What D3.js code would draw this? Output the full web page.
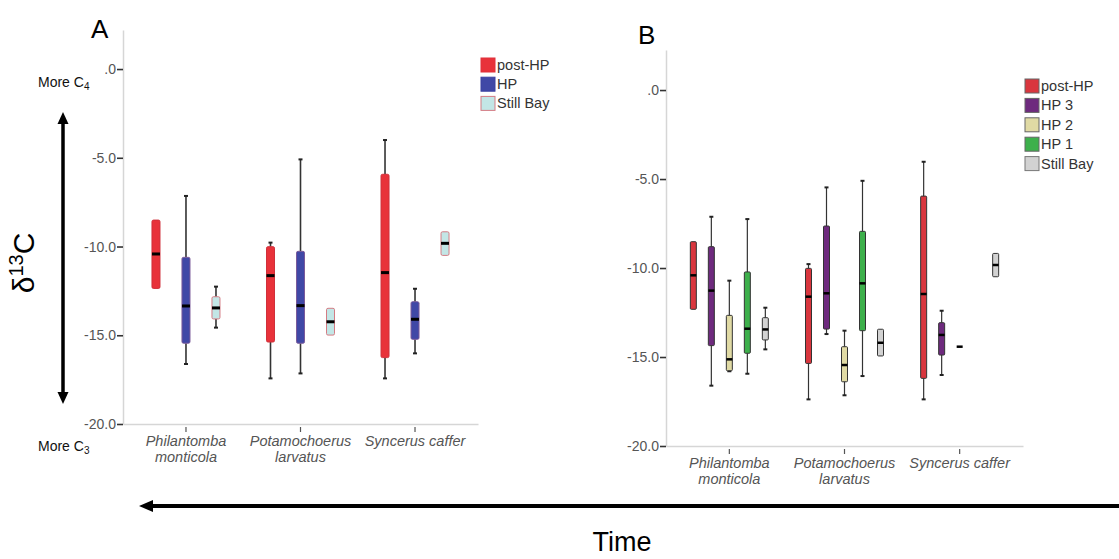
<!DOCTYPE html>
<html><head><meta charset="utf-8">
<script src="https://cdn.jsdelivr.net/npm/d3@7"></script>
<style>
body{margin:0;background:#fff}
svg{display:block}
text{font-family:"Liberation Sans",Arial,sans-serif}
</style>
</head><body>
<svg id="c" width="1119" height="559"></svg>
<script>
// ---------- DATA ----------
const categories = ["Philantomba monticola", "Potamochoerus larvatus", "Syncerus caffer"];
const categoryLines = [["Philantomba", "monticola"], ["Potamochoerus", "larvatus"], ["Syncerus caffer"]];
const yTicks = [0, -5, -10, -15, -20];
const yTickLabels = [".0", "-5.0", "-10.0", "-15.0", "-20.0"];

// Box stats per category: [min, q1, median, q3, max]
const seriesA = ["post-HP", "HP", "Still Bay"];
const aPostHP   = [[-12.36,-12.36,-10.42,-8.51,-8.51], [-17.43,-15.38,-11.64,-10.01,-9.78], [-17.43,-16.26,-11.47,-5.93,-4.00]];
const aHP       = [[-16.62,-15.45,-13.35,-10.61,-7.15], [-17.15,-15.45,-13.33,-10.27,-5.09], [-16.02,-15.23,-14.10,-13.11,-12.38]];
const aStillBay = [[-14.57,-14.08,-13.46,-12.83,-12.26], [-14.99,-14.99,-14.24,-13.48,-13.48], [-10.50,-10.50,-9.82,-9.17,-9.17]];

const seriesB = ["post-HP", "HP 3", "HP 2", "HP 1", "Still Bay"];
const bPostHP   = [[-12.32,-12.32,-10.41,-8.52,-8.52], [-17.38,-15.36,-11.61,-10.02,-9.78], [-17.38,-16.20,-11.46,-5.96,-4.03]];
const bHP3      = [[-16.61,-14.36,-11.27,-8.80,-7.12], [-13.71,-13.43,-11.42,-7.64,-5.47], [-16.01,-14.89,-13.76,-13.07,-12.40]];
const bHP2      = [[-15.80,-15.77,-15.13,-12.66,-10.71], [-17.15,-16.39,-15.45,-14.42,-13.52], [-14.42,-14.42,-14.42,-14.42,-14.42]];
const bHP1      = [[-15.94,-14.79,-13.41,-10.22,-7.25], [-16.07,-13.52,-10.86,-7.94,-5.10], null];
const bStillBay = [[-14.57,-14.04,-13.45,-12.79,-12.23], [-14.94,-14.94,-14.20,-13.44,-13.44], [-10.49,-10.49,-9.83,-9.18,-9.18]];

// ---------- DRAW ----------
const svg = d3.select("#c");

function panel(o) {
  const g = svg.append("g");
  const y = d3.scaleLinear().domain([-20, o.yMax]).range([o.bottom, o.top]);
  const x = d3.scaleBand().domain(categories).range([o.left, o.right]).paddingInner(0).paddingOuter(0.05);
  const sub = d3.scalePoint().domain(o.series).range([-o.spread, o.spread]);

  const ya = g.append("g").attr("transform", `translate(${o.left},0)`)
    .call(d3.axisLeft(y).tickValues(yTicks).tickSize(6).tickSizeOuter(0).tickPadding(1)
      .tickFormat((d, i) => yTickLabels[i]));
  ya.select(".domain").attr("stroke", "#d6d6d6").attr("stroke-width", 1.5);
  ya.selectAll(".tick line").attr("stroke", "#333").attr("stroke-width", 1.6);
  ya.selectAll(".tick text").attr("fill", "#555").style("font-size", "14px");

  const xa = g.append("g").attr("transform", `translate(0,${o.bottom})`)
    .call(d3.axisBottom(x).tickSize(6).tickSizeOuter(0).tickFormat(""));
  xa.select(".domain").attr("stroke", "#d6d6d6").attr("stroke-width", 1.5);
  xa.selectAll(".tick line").attr("stroke", "#555").attr("stroke-width", 1.2).attr("y1", 3).attr("y2", 8);

  categories.forEach((c, i) => {
    const t = g.append("text").attr("x", x(c) + x.bandwidth() / 2).attr("y", o.bottom + 22)
      .attr("text-anchor", "middle").attr("fill", "#555").style("font-size", "14.5px").style("font-style", "italic");
    categoryLines[i].forEach((ln, j) => {
      t.append("tspan").attr("x", x(c) + x.bandwidth() / 2).attr("dy", j === 0 ? 0 : 15.5).text(ln);
    });
  });

  o.series.forEach((s, si) => {
    const data = o.data[si];
    categories.forEach((c, ci) => {
      const d = data[ci];
      if (!d) return;
      const cx = x(c) + x.bandwidth() / 2 + sub(s);
      const [mn, q1, md, q3, mx] = d;
      const w = o.boxW;
      if (mx > q3) {
        g.append("line").attr("x1", cx).attr("x2", cx).attr("y1", y(mx)).attr("y2", y(q3))
          .attr("stroke", "#333").attr("stroke-width", o.whiskerW);
        g.append("line").attr("x1", cx - 2).attr("x2", cx + 2).attr("y1", y(mx)).attr("y2", y(mx))
          .attr("stroke", "#222").attr("stroke-width", 2);
      }
      if (mn < q1) {
        g.append("line").attr("x1", cx).attr("x2", cx).attr("y1", y(q1)).attr("y2", y(mn))
          .attr("stroke", "#333").attr("stroke-width", o.whiskerW);
        g.append("line").attr("x1", cx - 2).attr("x2", cx + 2).attr("y1", y(mn)).attr("y2", y(mn))
          .attr("stroke", "#222").attr("stroke-width", 2);
      }
      g.append("rect").attr("x", cx - w / 2).attr("y", y(q3)).attr("width", w)
        .attr("height", Math.max(0, y(q1) - y(q3))).attr("rx", o.rx)
        .attr("fill", o.fills[si]).attr("stroke", o.strokes[si]).attr("stroke-width", 1);
      g.append("line").attr("x1", cx - w / 2).attr("x2", cx + w / 2).attr("y1", y(md)).attr("y2", y(md))
        .attr("stroke", "#000").attr("stroke-width", o.medianW);
    });
  });

  // legend
  const lg = g.append("g");
  o.series.forEach((s, i) => {
    const ty = o.legY + i * o.legStep;
    lg.append("rect").attr("x", o.legX).attr("y", ty).attr("width", 14).attr("height", 14)
      .attr("fill", o.fills[i]).attr("stroke", o.legStrokes[i]).attr("stroke-width", 1);
    lg.append("text").attr("x", o.legX + 16).attr("y", ty + 12).attr("fill", "#333")
      .style("font-size", "14.5px").text(s);
  });

  g.append("text").attr("x", o.labelX).attr("y", o.labelY).style("font-size", "26px").attr("fill", "#000").text(o.label);
}

panel({
  left: 123, right: 478, top: 30, bottom: 424, yMax: 2.2,
  series: seriesA, data: [aPostHP, aHP, aStillBay], spread: 30, boxW: 8, rx: 1.5,
  fills: ["#e8323a", "#4048a6", "#c3e6e6"], strokes: ["#d0303a", "#7a5a9a", "#d47c84"],
  legStrokes: ["#e0303a", "#3a40a0", "#d47c84"],
  whiskerW: 1.6, medianW: 3, legX: 481, legY: 58, legStep: 19.2,
  label: "A", labelX: 91, labelY: 38
});

panel({
  left: 666, right: 1023, top: 50, bottom: 446, yMax: 2.25,
  series: seriesB, data: [bPostHP, bHP3, bHP2, bHP1, bStillBay], spread: 36, boxW: 6, rx: 1,
  fills: ["#d9363e", "#6e2a7e", "#e0daa4", "#3db04b", "#d2d2d2"],
  strokes: ["#333", "#333", "#333", "#333", "#333"],
  legStrokes: ["#666", "#666", "#666", "#666", "#777"],
  whiskerW: 1.2, medianW: 2.5, legX: 1025, legY: 79, legStep: 19.4,
  label: "B", labelX: 638, labelY: 44
});

// ---------- Annotations ----------
// vertical double arrow
svg.append("line").attr("x1", 63).attr("x2", 63).attr("y1", 122).attr("y2", 394).attr("stroke", "#000").attr("stroke-width", 3.5);
svg.append("path").attr("d", "M63,112 L57.5,124 L68.5,124 Z").attr("fill", "#000");
svg.append("path").attr("d", "M63,404 L57.5,392 L68.5,392 Z").attr("fill", "#000");

const c4 = svg.append("text").attr("x", 38).attr("y", 87).style("font-size", "14px").attr("fill", "#111");
c4.append("tspan").text("More C");
c4.append("tspan").attr("dy", 3).style("font-size", "10px").text("4");
const c3 = svg.append("text").attr("x", 38).attr("y", 451).style("font-size", "14px").attr("fill", "#111");
c3.append("tspan").text("More C");
c3.append("tspan").attr("dy", 3).style("font-size", "10px").text("3");

const dl = svg.append("text").attr("transform", "translate(34,263) rotate(-90)").attr("text-anchor", "middle")
  .style("font-size", "30px").attr("fill", "#000");
dl.append("tspan").text("δ");
dl.append("tspan").attr("dy", -11).style("font-size", "20px").text("13");
dl.append("tspan").attr("dy", 11).text("C");

// horizontal time arrow
svg.append("line").attr("x1", 150).attr("x2", 1119).attr("y1", 506).attr("y2", 506).attr("stroke", "#000").attr("stroke-width", 4);
svg.append("path").attr("d", "M139,506 L153,500 L153,512 Z").attr("fill", "#000");
svg.append("text").attr("x", 622).attr("y", 551).attr("text-anchor", "middle").style("font-size", "27px").attr("fill", "#000").text("Time");
</script>
</body></html>
